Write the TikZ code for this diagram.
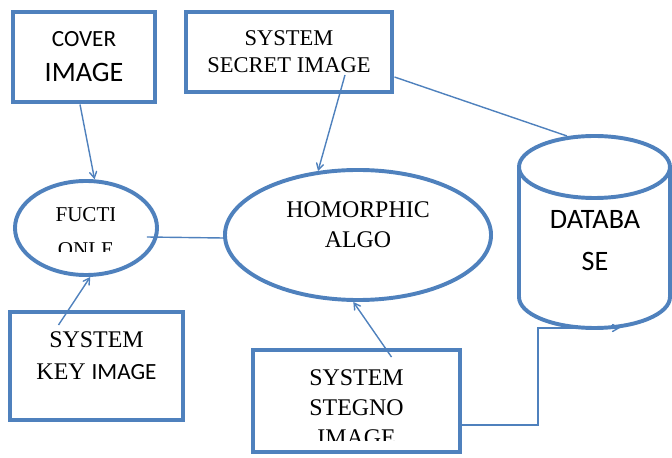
\documentclass[tikz,border=0pt]{standalone}
\usepackage{fontspec}
\setmainfont{Liberation Serif}
\newfontfamily\calibrifont{Carlito}
\usepackage{tikz}
\usetikzlibrary{
    calc,
    arrows,
    shapes.geometric
}
\definecolor{boxblue}{RGB}{79,129,189}
\tikzset{
    box/.style={draw=boxblue, line width=3.5pt, inner sep=0pt},
    oval/.style={ellipse, draw=boxblue, line width=2.8pt, inner sep=0pt},
    link/.style={draw=boxblue, line width=1pt},
    serif/.style={align=center, font=\fontsize{17}{21.3}\selectfont}
}

\begin{document}
\begin{tikzpicture}[x=0.025cm, y=-0.025cm, >=angle 60]
        \useasboundingbox (0,0) rectangle (672,458);

        % boxes and ovals
        \draw (84,57) node[box, minimum width=3.55cm, minimum height=2.25cm, align=center, font=\calibrifont\fontsize{20}{24.8}\selectfont](cover){{\fontsize{16.5}{19}\selectfont COVER}\\IMAGE};
        \draw (289,52) node[box, minimum width=5.15cm, minimum height=2cm, serif, font=\fontsize{16}{19.2}\selectfont](secret){SYSTEM\\SECRET IMAGE};
        \draw (96.5,366) node[box, minimum width=4.325cm, minimum height=2.7cm](key){};
        \draw (96.5,356) node[serif, font=\fontsize{17}{22.7}\selectfont](keylabel){SYSTEM\\KEY {\calibrifont\fontsize{16.5}{20}\selectfont IMAGE}};
        \draw (356.5,401) node[box, minimum width=5.175cm, minimum height=2.55cm](stegno){};
        \draw (86,228) node[oval, minimum width=3.55cm, minimum height=2.35cm](fuct){};
        \draw (358,235) node[oval, minimum width=6.65cm, minimum height=3.25cm](homo){};
        \draw (358,225) node[serif](homolabel){HOMORPHIC\\ALGO};

        % clipped texts
        \begin{scope}
            \clip (50,200) rectangle (114,252);
            \draw (86,232) node[align=center, font=\fontsize{15}{24.8}\selectfont](fuctlabel){FUCTI\\ONLE};
        \end{scope}
        \begin{scope}
            \clip (256,352) rectangle (457,441);
            \draw (356.5,408) node[serif](stegnolabel){SYSTEM\\STEGNO\\IMAGE};
        \end{scope}

        % database
        \draw[boxblue, line width=2.8pt] (594.5,167) ellipse [x radius=75.5, y radius=31];
        \draw[boxblue, line width=2.8pt] (519,167) -- (519,297) arc[start angle=180, end angle=0, x radius=75.5, y radius=31] -- (670,167);
        \draw (595,241) node[align=center, font=\calibrifont\fontsize{20}{29.8}\selectfont](db){DATABA\\SE};
        \coordinate (dbtop) at (567,136);
        \coordinate (dbkink) at (538,328);
        \coordinate (dbbot) at (620,328);

        % connectors
        \draw[link, ->] ($(cover.south)+(-4,0)$) to (fuct.80);
        \draw[link, ->] ($(secret.center)+(56,23)$) to (homo.122);
        \draw[link] ($(secret.east)+(0,25)$) to (dbtop);
        \draw[link] ($(homo.west)+(0,3)$) to ($(fuct.east)+(-12,9)$);
        \draw[link, ->] ($(key.center)+(-38,-41)$) to (fuct.-85);
        \draw[link, ->] ($(stegno.center)+(35,-44)$) to (homo.-94);
        \draw[link, ->] ($(stegno.east)+(0,24)$) -| (dbkink) -- (dbbot);
    \end{tikzpicture}
\end{document}
